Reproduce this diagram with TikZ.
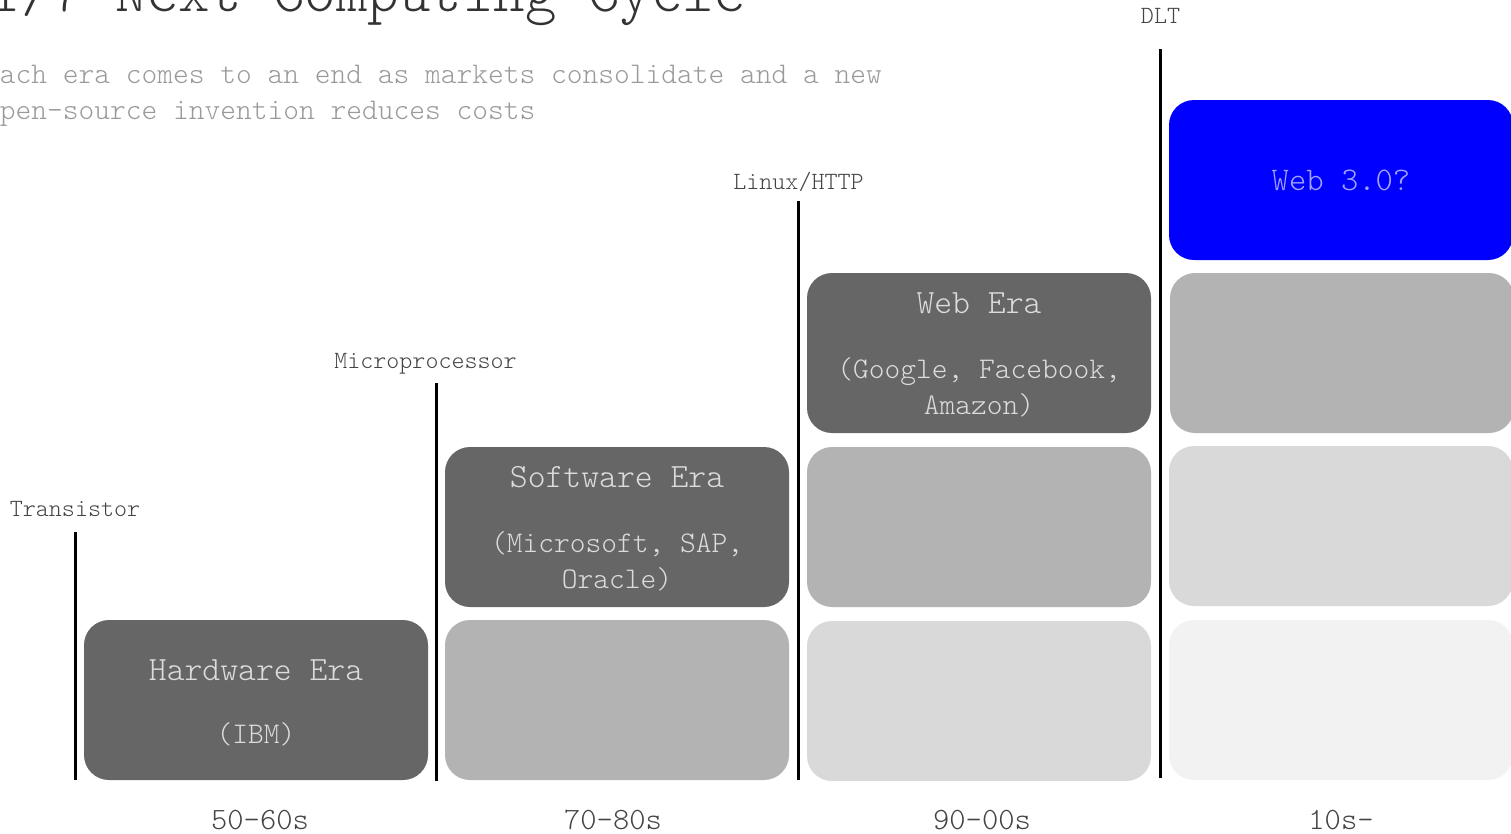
\documentclass[tikz,border=0pt]{standalone}
\usepackage{fontspec}
\setmainfont{Latin Modern Mono Light}
\definecolor{dark}{HTML}{666666}
\definecolor{mid}{HTML}{B3B3B3}
\definecolor{light}{HTML}{D9D9D9}
\definecolor{pale}{HTML}{F2F2F2}
\definecolor{web3}{HTML}{0000FF}
\definecolor{boxtext}{HTML}{DCDCDC}
\definecolor{web3text}{HTML}{A3A3FF}
\definecolor{labeltext}{HTML}{444444}
\definecolor{subtext}{HTML}{9A9A9A}
\tikzset{
  era/.style={rounded corners=25pt, minimum width=344pt, minimum height=160pt, inner sep=0pt, draw=none},
  txt/.style={anchor=base, inner sep=0pt},
  eratitle/.style={txt, text=boxtext, font=\fontsize{34}{40}\selectfont},
  erasub/.style={txt, text=boxtext, font=\fontsize{30}{36}\selectfont},
  marklabel/.style={txt, text=labeltext, font=\fontsize{24.8}{30}\selectfont},
  decade/.style={txt, text=labeltext, font=\fontsize{31}{36}\selectfont},
  sep/.style={line width=3pt, black},
}
\begin{document}
\begin{tikzpicture}[x=1pt,y=-1pt]
\useasboundingbox (0,0) rectangle (1511,833);
\clip (0,0) rectangle (1511,833);

% title and subtitle
\node[anchor=base east, inner sep=0pt, text=black!80, font=\fontsize{60}{66}\selectfont] (title) at (746,11) {1/7 Next Computing Cycle};
\node[anchor=base west, inner sep=0pt, text=subtext, font=\fontsize{30}{36}\selectfont] (sub1) at (-16,83) {Each era comes to an end as markets consolidate and a new};
\node[anchor=base west, inner sep=0pt, text=subtext, font=\fontsize{30}{36}\selectfont] (sub2) at (-16,119) {open-source invention reduces costs};

% boxes column 1
\node[era, fill=dark] (hw) at (256,700) {};
% column 2
\node[era, fill=mid] (c2r1) at (617,700) {};
\node[era, fill=dark] (sw) at (617,527) {};
% column 3
\node[era, fill=light] (c3r1) at (979,701) {};
\node[era, fill=mid] (c3r2) at (979,527) {};
\node[era, fill=dark] (web) at (979,353) {};
% column 4
\node[era, fill=pale] (c4r1) at (1341,700) {};
\node[era, fill=light] (c4r2) at (1341,526) {};
\node[era, fill=mid] (c4r3) at (1342,353) {};
\node[era, fill=web3] (w3) at (1341,180) {};

% box texts
\node[eratitle] (hwt) at (256,680) {Hardware Era};
\node[erasub] (hws) at (256,743) {(IBM)};
\node[eratitle] (swt) at (617,487) {Software Era};
\node[erasub] (sws1) at (617,552) {(Microsoft, SAP,};
\node[erasub] (sws2) at (617,588) {Oracle)};
\node[eratitle] (webt) at (979,313) {Web Era};
\node[erasub] (webs1) at (979,378) {(Google, Facebook,};
\node[erasub] (webs2) at (979,414) {Amazon)};
\node[txt, text=web3text, font=\fontsize{33}{38}\selectfont] (w3t) at (1341,190) {Web 3.0?};

% separators
\coordinate (l1t) at (75,532);   \coordinate (l1b) at (75,780);
\coordinate (l2t) at (436,383);  \coordinate (l2b) at (436,781);
\coordinate (l3t) at (798,201);  \coordinate (l3b) at (798,780);
\coordinate (l4t) at (1160,49);  \coordinate (l4b) at (1160,778);
\draw[sep] (l1t) -- (l1b);
\draw[sep] (l2t) -- (l2b);
\draw[sep] (l3t) -- (l3b);
\draw[sep] (l4t) -- (l4b);

% labels
\node[marklabel] (tr) at (75,516) {Transistor};
\node[marklabel] (mp) at (425.5,368) {Microprocessor};
\node[marklabel] (lx) at (798.5,189) {Linux/HTTP};
\node[marklabel] (dlt) at (1160.5,23) {DLT};

% decades
\node[decade] (d1) at (260,829) {50-60s};
\node[decade] (d2) at (613,829) {70-80s};
\node[decade] (d3) at (982,829) {90-00s};
\node[decade] (d4) at (1341,829) {10s-};
\end{tikzpicture}
\end{document}
